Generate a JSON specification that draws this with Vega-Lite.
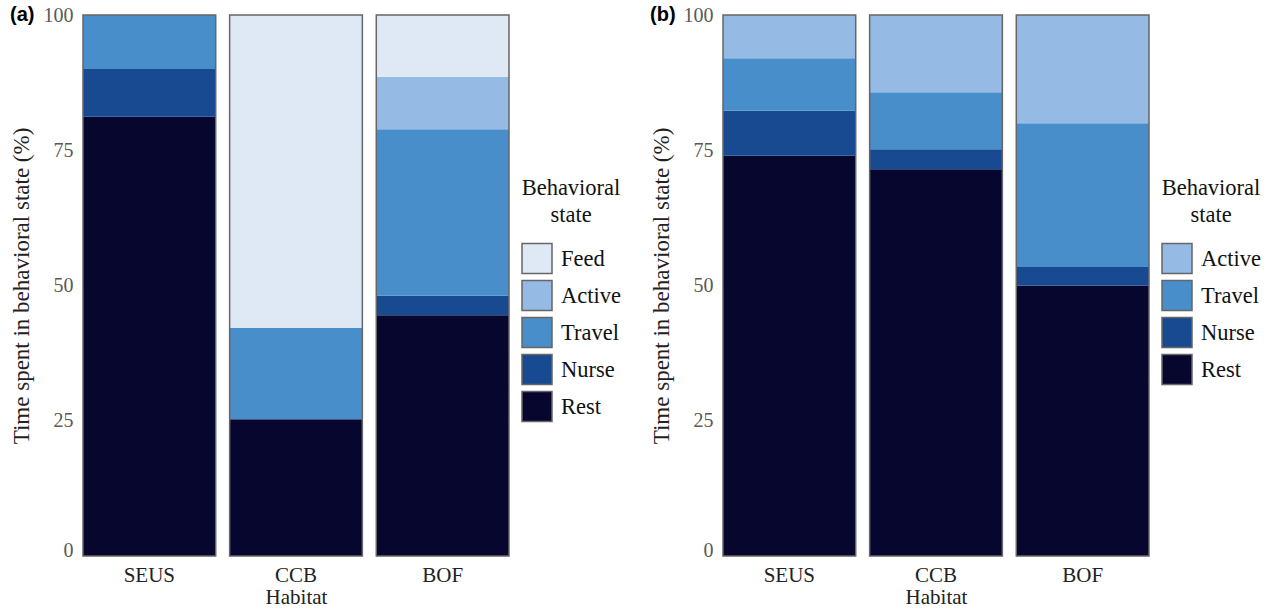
{
  "$schema": "https://vega.github.io/schema/vega-lite/v6.json",
  "padding": {"left": 10, "top": 5, "right": 5, "bottom": 3},
  "background": "white",
  "datasets": {
    "a": [
      {"habitat": "SEUS", "state": "Rest", "pct": 81.2, "ord": 1},
      {"habitat": "SEUS", "state": "Nurse", "pct": 8.8, "ord": 2},
      {"habitat": "SEUS", "state": "Travel", "pct": 10.0, "ord": 3},
      {"habitat": "CCB", "state": "Rest", "pct": 25.3, "ord": 1},
      {"habitat": "CCB", "state": "Travel", "pct": 16.9, "ord": 3},
      {"habitat": "CCB", "state": "Feed", "pct": 57.8, "ord": 5},
      {"habitat": "BOF", "state": "Rest", "pct": 44.5, "ord": 1},
      {"habitat": "BOF", "state": "Nurse", "pct": 3.6, "ord": 2},
      {"habitat": "BOF", "state": "Travel", "pct": 30.8, "ord": 3},
      {"habitat": "BOF", "state": "Active", "pct": 9.7, "ord": 4},
      {"habitat": "BOF", "state": "Feed", "pct": 11.4, "ord": 5}
    ],
    "b": [
      {"habitat": "SEUS", "state": "Rest", "pct": 74.0, "ord": 1},
      {"habitat": "SEUS", "state": "Nurse", "pct": 8.3, "ord": 2},
      {"habitat": "SEUS", "state": "Travel", "pct": 9.7, "ord": 3},
      {"habitat": "SEUS", "state": "Active", "pct": 8.0, "ord": 4},
      {"habitat": "CCB", "state": "Rest", "pct": 71.5, "ord": 1},
      {"habitat": "CCB", "state": "Nurse", "pct": 3.7, "ord": 2},
      {"habitat": "CCB", "state": "Travel", "pct": 10.5, "ord": 3},
      {"habitat": "CCB", "state": "Active", "pct": 14.3, "ord": 4},
      {"habitat": "BOF", "state": "Rest", "pct": 50.0, "ord": 1},
      {"habitat": "BOF", "state": "Nurse", "pct": 3.4, "ord": 2},
      {"habitat": "BOF", "state": "Travel", "pct": 26.6, "ord": 3},
      {"habitat": "BOF", "state": "Active", "pct": 20.0, "ord": 4}
    ]
  },
  "config": {
    "view": {"stroke": null},
    "font": "Liberation Serif",
    "concat": {"spacing": 29},
    "axis": {"domain": false, "ticks": false, "grid": false, "labelFont": "Liberation Serif", "titleFont": "Liberation Serif", "titleFontWeight": "normal"},
    "axisX": {"labelAngle": 0, "labelColor": "#222", "labelFontSize": 21, "labelPadding": 8, "titleColor": "#222", "titleFontSize": 21, "titlePadding": 1},
    "axisY": {"labelColor": "#595959", "labelFontSize": 20, "labelPadding": 10, "titleColor": "#222", "titleFontSize": 23, "titlePadding": 10},
    "legend": {
      "titleFont": "Liberation Serif", "titleFontSize": 22.5, "titleFontWeight": "normal", "titleColor": "#111",
      "titleAnchor": "middle", "titleAlign": "center", "titleLineHeight": 27, "titlePadding": 16,
      "labelFont": "Liberation Serif", "labelFontSize": 22.5, "labelColor": "#111", "labelOffset": 8,
      "symbolType": "square", "symbolSize": 900, "rowPadding": 1, "symbolStrokeColor": "#666", "symbolStrokeWidth": 1.5
    },
    "title": {"font": "Liberation Sans", "fontSize": 20, "fontWeight": "bold", "color": "#000", "anchor": "start", "frame": "bounds", "offset": -20}
  },
  "hconcat": [
    {
      "width": 426, "height": 541,
      "title": {"text": "(a)"},
      "data": {"name": "a"},
      "layer": [
        {
          "mark": {"type": "bar"},
          "encoding": {
            "x": {"field": "habitat", "type": "nominal", "sort": ["SEUS", "CCB", "BOF"], "scale": {"paddingInner": 0.095, "paddingOuter": 0},
                  "axis": {"title": "Habitat"}},
            "y": {"field": "pct", "type": "quantitative", "stack": "zero", "scale": {"domain": [0, 100]},
                  "axis": {"title": "Time spent in behavioral state (%)", "values": [0, 25, 50, 75, 100],
                           "labelBaseline": {"expr": "datum.value == 0 ? 'alphabetic' : 'middle'"}}},
            "color": {"field": "state", "type": "nominal",
                      "scale": {"domain": ["Feed", "Active", "Travel", "Nurse", "Rest"], "range": ["#dfe8f5", "#95bae3", "#488ecb", "#174a91", "#06062e"]},
                      "legend": {"orient": "none", "legendX": 438, "legendY": 162, "title": ["Behavioral", "state"],
                                 "encode": {"symbols": {"update": {"stroke": {"value": "#666"}, "strokeWidth": {"value": 1.5}}}}}},
            "order": {"field": "ord", "type": "quantitative"}
          }
        },
        {
          "mark": {"type": "bar", "fillOpacity": 0, "stroke": "#666", "strokeWidth": 1.5},
          "encoding": {
            "x": {"field": "habitat", "type": "nominal", "sort": ["SEUS", "CCB", "BOF"], "axis": {"title": "Habitat"}},
            "y": {"aggregate": "sum", "field": "pct", "type": "quantitative",
                  "axis": {"title": "Time spent in behavioral state (%)", "values": [0, 25, 50, 75, 100],
                           "labelBaseline": {"expr": "datum.value == 0 ? 'alphabetic' : 'middle'"}}}
          }
        }
      ]
    },
    {
      "width": 426, "height": 541,
      "title": {"text": "(b)"},
      "data": {"name": "b"},
      "layer": [
        {
          "mark": {"type": "bar"},
          "encoding": {
            "x": {"field": "habitat", "type": "nominal", "sort": ["SEUS", "CCB", "BOF"], "scale": {"paddingInner": 0.095, "paddingOuter": 0},
                  "axis": {"title": "Habitat"}},
            "y": {"field": "pct", "type": "quantitative", "stack": "zero", "scale": {"domain": [0, 100]},
                  "axis": {"title": "Time spent in behavioral state (%)", "values": [0, 25, 50, 75, 100],
                           "labelBaseline": {"expr": "datum.value == 0 ? 'alphabetic' : 'middle'"}}},
            "color": {"field": "state", "type": "nominal",
                      "scale": {"domain": ["Active", "Travel", "Nurse", "Rest"], "range": ["#95bae3", "#488ecb", "#174a91", "#06062e"]},
                      "legend": {"orient": "none", "legendX": 438, "legendY": 162, "title": ["Behavioral", "state"],
                                 "encode": {"symbols": {"update": {"stroke": {"value": "#666"}, "strokeWidth": {"value": 1.5}}}}}},
            "order": {"field": "ord", "type": "quantitative"}
          }
        },
        {
          "mark": {"type": "bar", "fillOpacity": 0, "stroke": "#666", "strokeWidth": 1.5},
          "encoding": {
            "x": {"field": "habitat", "type": "nominal", "sort": ["SEUS", "CCB", "BOF"], "axis": {"title": "Habitat"}},
            "y": {"aggregate": "sum", "field": "pct", "type": "quantitative",
                  "axis": {"title": "Time spent in behavioral state (%)", "values": [0, 25, 50, 75, 100],
                           "labelBaseline": {"expr": "datum.value == 0 ? 'alphabetic' : 'middle'"}}}
          }
        }
      ]
    }
  ],
  "resolve": {"scale": {"color": "independent"}, "legend": {"color": "independent"}}
}
